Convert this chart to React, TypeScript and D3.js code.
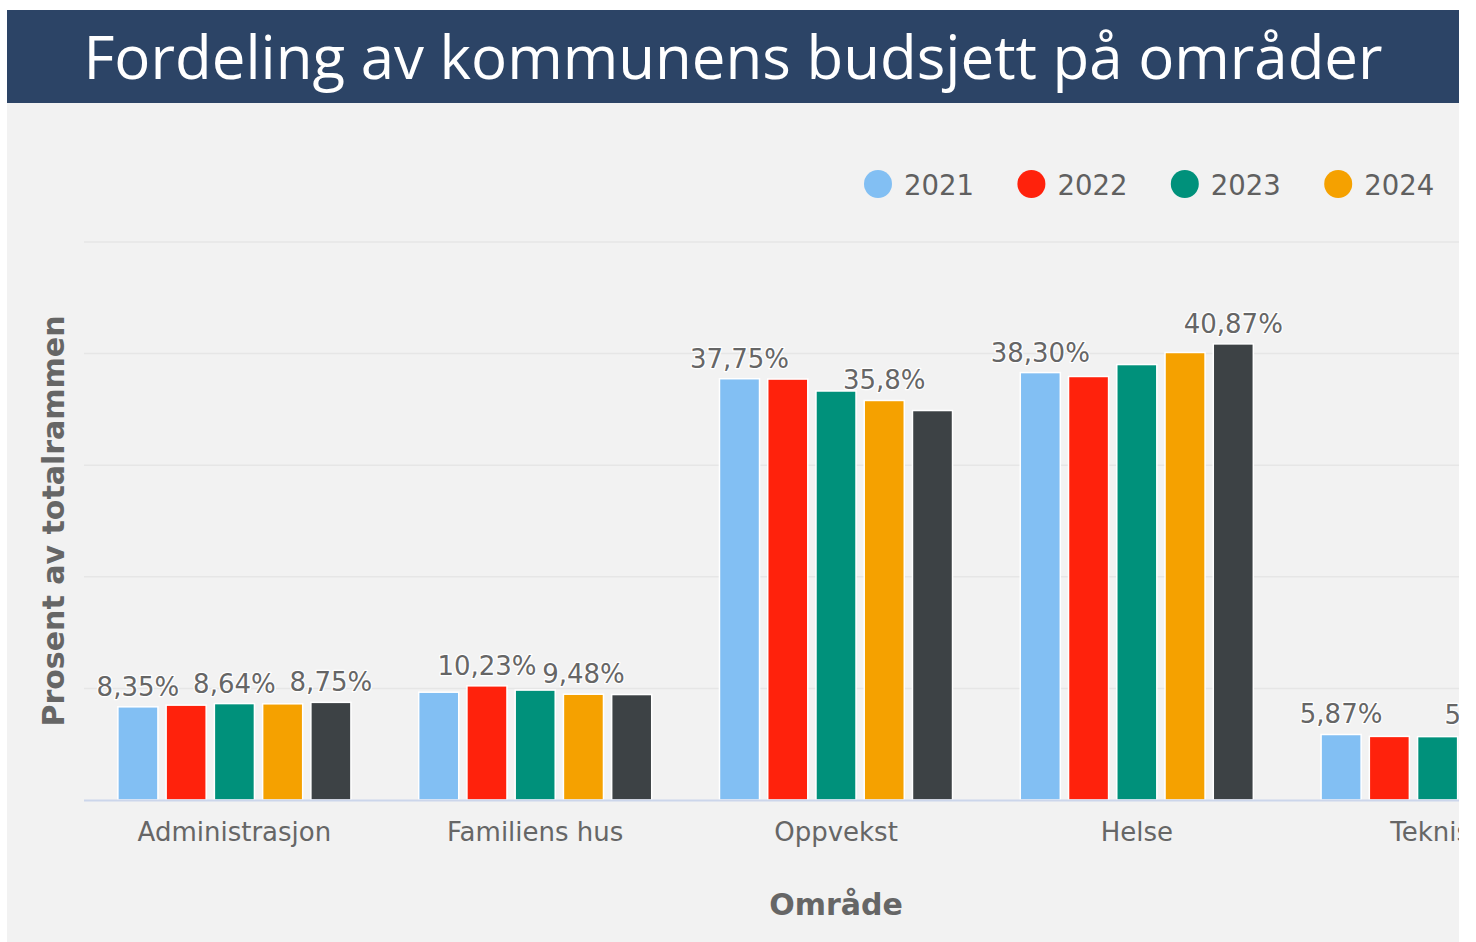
import React from "react";
import * as d3 from "d3";

const title = "Fordeling av kommunens budsjett på områder";
const categories = ["Administrasjon", "Familiens hus", "Oppvekst", "Helse", "Teknisk"];
const years = ["2021", "2022", "2023", "2024", "2025"];
const legendYears = ["2021", "2022", "2023", "2024"];
const colors = ["#82bff3", "#ff220c", "#00917b", "#f5a100", "#3d4245"];

// values per year (Norwegian decimal format as shown in labels)
const v2021 = ["8,35", "9,66", "37,75", "38,30", "5,87"];
const v2022 = ["8,50", "10,23", "37,72", "37,95", "5,70"];
const v2023 = ["8,64", "9,85", "36,65", "39,02", "5,68"];
const v2024 = ["8,62", "9,48", "35,8", "40,10", "5,78"];
const v2025 = ["8,75", "9,45", "34,90", "40,87", "5,60"];
const series = [v2021, v2022, v2023, v2024, v2025];

const yTicks = [0, 10, 20, 30, 40, 50];

const num = (s: string) => +s.replace(",", ".");

const charW: Record<string, number> = { ",": 0.318, "%": 0.95 };
const textWidth = (s: string, size: number) =>
  s.split("").reduce((a, c) => a + (charW[c] ?? 0.636), 0) * size;

export default function App() {
  const W = 1476, H = 942;
  const clipL = 7, clipR = 1459;
  const plotL = 84, plotR = 1588, plotT = 242, plotB = 800;

  const x = d3.scaleBand<string>().domain(categories).range([plotL, plotR]);
  const groupPad = x.bandwidth() * 0.099;
  const x1 = d3.scaleBand<string>().domain(years).range([groupPad, x.bandwidth() - groupPad]);
  const barW = x1.bandwidth() * 0.83;
  const y = d3.scaleLinear().domain([0, 50]).range([plotB, plotT]);

  const labelSize = 26;
  type Lab = { cx: number; by: number; w: number; text: string; v: number };
  const shownLabels: Lab[] = [];
  categories.forEach((c, ci) => {
    const labs: Lab[] = years.map((yr, si) => {
      const s = series[si][ci];
      const text = s + "%";
      return {
        cx: (x(c) ?? 0) + (x1(yr) ?? 0) + x1.bandwidth() / 2,
        by: y(num(s)) - 11,
        w: textWidth(text, labelSize) + 4,
        text,
        v: num(s),
      };
    });
    const sorted = [...labs].sort((a, b) => b.v - a.v);
    const kept: Lab[] = [];
    sorted.forEach((l) => {
      const overlap = kept.some(
        (k) => Math.abs(k.cx - l.cx) < (k.w + l.w) / 2 && Math.abs(k.by - l.by) < labelSize
      );
      if (!overlap) kept.push(l);
    });
    shownLabels.push(...kept);
  });

  return (
    <svg
      width={W}
      height={H}
      style={{ position: "absolute", left: 0, top: 0, background: "#ffffff" }}
    >
      <defs>
        <clipPath id="chartClip">
          <rect x={clipL} y={10} width={clipR - clipL} height={H - 10} />
        </clipPath>
      </defs>
      <g clipPath="url(#chartClip)">
        <rect x={clipL} y={102} width={clipR - clipL} height={H - 102} fill="#f2f2f2" />
        <rect x={clipL} y={10} width={clipR - clipL} height={93} fill="#2c4466" />
        <text
          x={(clipL + clipR) / 2}
          y={79}
          textAnchor="middle"
          fill="#ffffff"
          style={{ fontFamily: "'Open Sans', sans-serif", fontSize: 60 }}
        >
          {title}
        </text>

        {/* legend */}
        {legendYears.map((yr, i) => (
          <g key={yr} transform={`translate(${878 + i * 153.4},184)`}>
            <circle r={14} fill={colors[i]} />
            <text
              x={26}
              y={11}
              fill="#606060"
              style={{ fontFamily: "'DejaVu Sans', sans-serif", fontSize: 27.5 }}
            >
              {yr}
            </text>
          </g>
        ))}

        {/* gridlines */}
        {yTicks.slice(1).map((t) => (
          <line key={t} x1={plotL} x2={plotR} y1={y(t)} y2={y(t)} stroke="#e6e6e6" strokeWidth={1.5} />
        ))}

        {/* bars */}
        {series.map((vals, si) =>
          vals.map((s, ci) => {
            const bx = (x(categories[ci]) ?? 0) + (x1(years[si]) ?? 0) + (x1.bandwidth() - barW) / 2;
            const top = y(num(s));
            return (
              <rect
                key={`${si}-${ci}`}
                x={bx}
                y={top}
                width={barW}
                height={plotB - top}
                fill={colors[si]}
                stroke="#ffffff"
                strokeWidth={1.5}
              />
            );
          })
        )}

        {/* axis line */}
        <line x1={plotL} x2={plotR} y1={plotB + 0.5} y2={plotB + 0.5} stroke="#ccd6eb" strokeWidth={2} />

        {/* data labels */}
        {shownLabels.map((l, i) => (
          <text
            key={i}
            x={l.cx}
            y={l.by}
            textAnchor="middle"
            fill="#666666"
            stroke="#ffffff"
            strokeWidth={2.5}
            strokeLinejoin="round"
            paintOrder="stroke"
            style={{ fontFamily: "'DejaVu Sans', sans-serif", fontSize: labelSize }}
          >
            {l.text}
          </text>
        ))}

        {/* category labels */}
        {categories.map((c) => (
          <text
            key={c}
            x={(x(c) ?? 0) + x.bandwidth() / 2}
            y={841}
            textAnchor="middle"
            fill="#666666"
            style={{ fontFamily: "'DejaVu Sans', sans-serif", fontSize: 26 }}
          >
            {c}
          </text>
        ))}

        {/* axis titles */}
        <text
          x={(plotL + plotR) / 2}
          y={915}
          textAnchor="middle"
          fill="#666666"
          style={{ fontFamily: "'DejaVu Sans', sans-serif", fontSize: 30, fontWeight: "bold" }}
        >
          Område
        </text>
        <text
          transform={`translate(63.5,${(plotT + plotB) / 2}) rotate(-90)`}
          textAnchor="middle"
          fill="#666666"
          style={{ fontFamily: "'DejaVu Sans', sans-serif", fontSize: 30, fontWeight: "bold" }}
        >
          Prosent av totalrammen
        </text>
      </g>
    </svg>
  );
}
